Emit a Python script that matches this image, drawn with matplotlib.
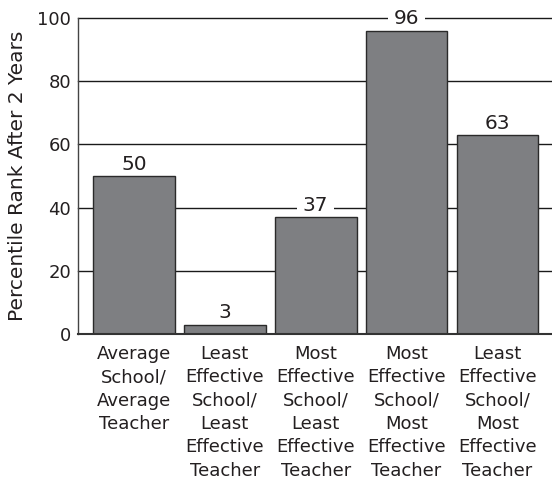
import matplotlib
matplotlib.use("Agg")
import matplotlib.pyplot as plt

categories = [
    "Average\nSchool/\nAverage\nTeacher",
    "Least\nEffective\nSchool/\nLeast\nEffective\nTeacher",
    "Most\nEffective\nSchool/\nLeast\nEffective\nTeacher",
    "Most\nEffective\nSchool/\nMost\nEffective\nTeacher",
    "Least\nEffective\nSchool/\nMost\nEffective\nTeacher",
]
values = [50, 3, 37, 96, 63]
yticks = [0, 20, 40, 60, 80, 100]
ylabel = "Percentile Rank After 2 Years"

plt.rcParams['font.family'] = ['DejaVu Sans']
TXT = "#231f20"

fig = plt.figure(figsize=(5.52, 4.83), dpi=100)
ax = fig.add_axes([78/552, 1-334/483, 1-78/552, (334-18)/483])

x = list(range(len(values)))
ax.bar(x, values, width=0.9, color="#7e7f82", edgecolor="#2a2a2a", linewidth=1.0, zorder=5)

for y in yticks[1:]:
    ax.axhline(y, color="#1a1a1a", linewidth=1.0, zorder=1, clip_on=False)

for xi, v in zip(x, values):
    ax.annotate(str(v), (xi, v), xytext=(0, 4.5), textcoords="offset points",
                ha="center", va="baseline", fontsize=14.5, color=TXT, zorder=4,
                bbox=dict(boxstyle="square,pad=0.3", fc="white", ec="none"))

ax.set_xlim(-0.615, 4.6)
ax.set_ylim(0, 100)
ax.set_yticks(yticks)
ax.set_yticklabels([str(t) for t in yticks])
ax.set_xticks(x)
ax.set_xticklabels(categories, linespacing=1.38)
ax.tick_params(axis="both", length=0, labelcolor=TXT)
ax.tick_params(axis="y", pad=5, labelsize=13)
ax.tick_params(axis="x", pad=8, labelsize=13)
ax.set_ylabel(ylabel, fontsize=14.5, color=TXT, labelpad=7)

for s in ["top", "right"]:
    ax.spines[s].set_visible(False)
ax.spines["left"].set_color("#444444")
ax.spines["left"].set_linewidth(1.0)
ax.spines["bottom"].set_color("#333333")
ax.spines["bottom"].set_linewidth(1.5)
ax.spines["bottom"].set_zorder(6)

fig.savefig("out.png", dpi=100)
